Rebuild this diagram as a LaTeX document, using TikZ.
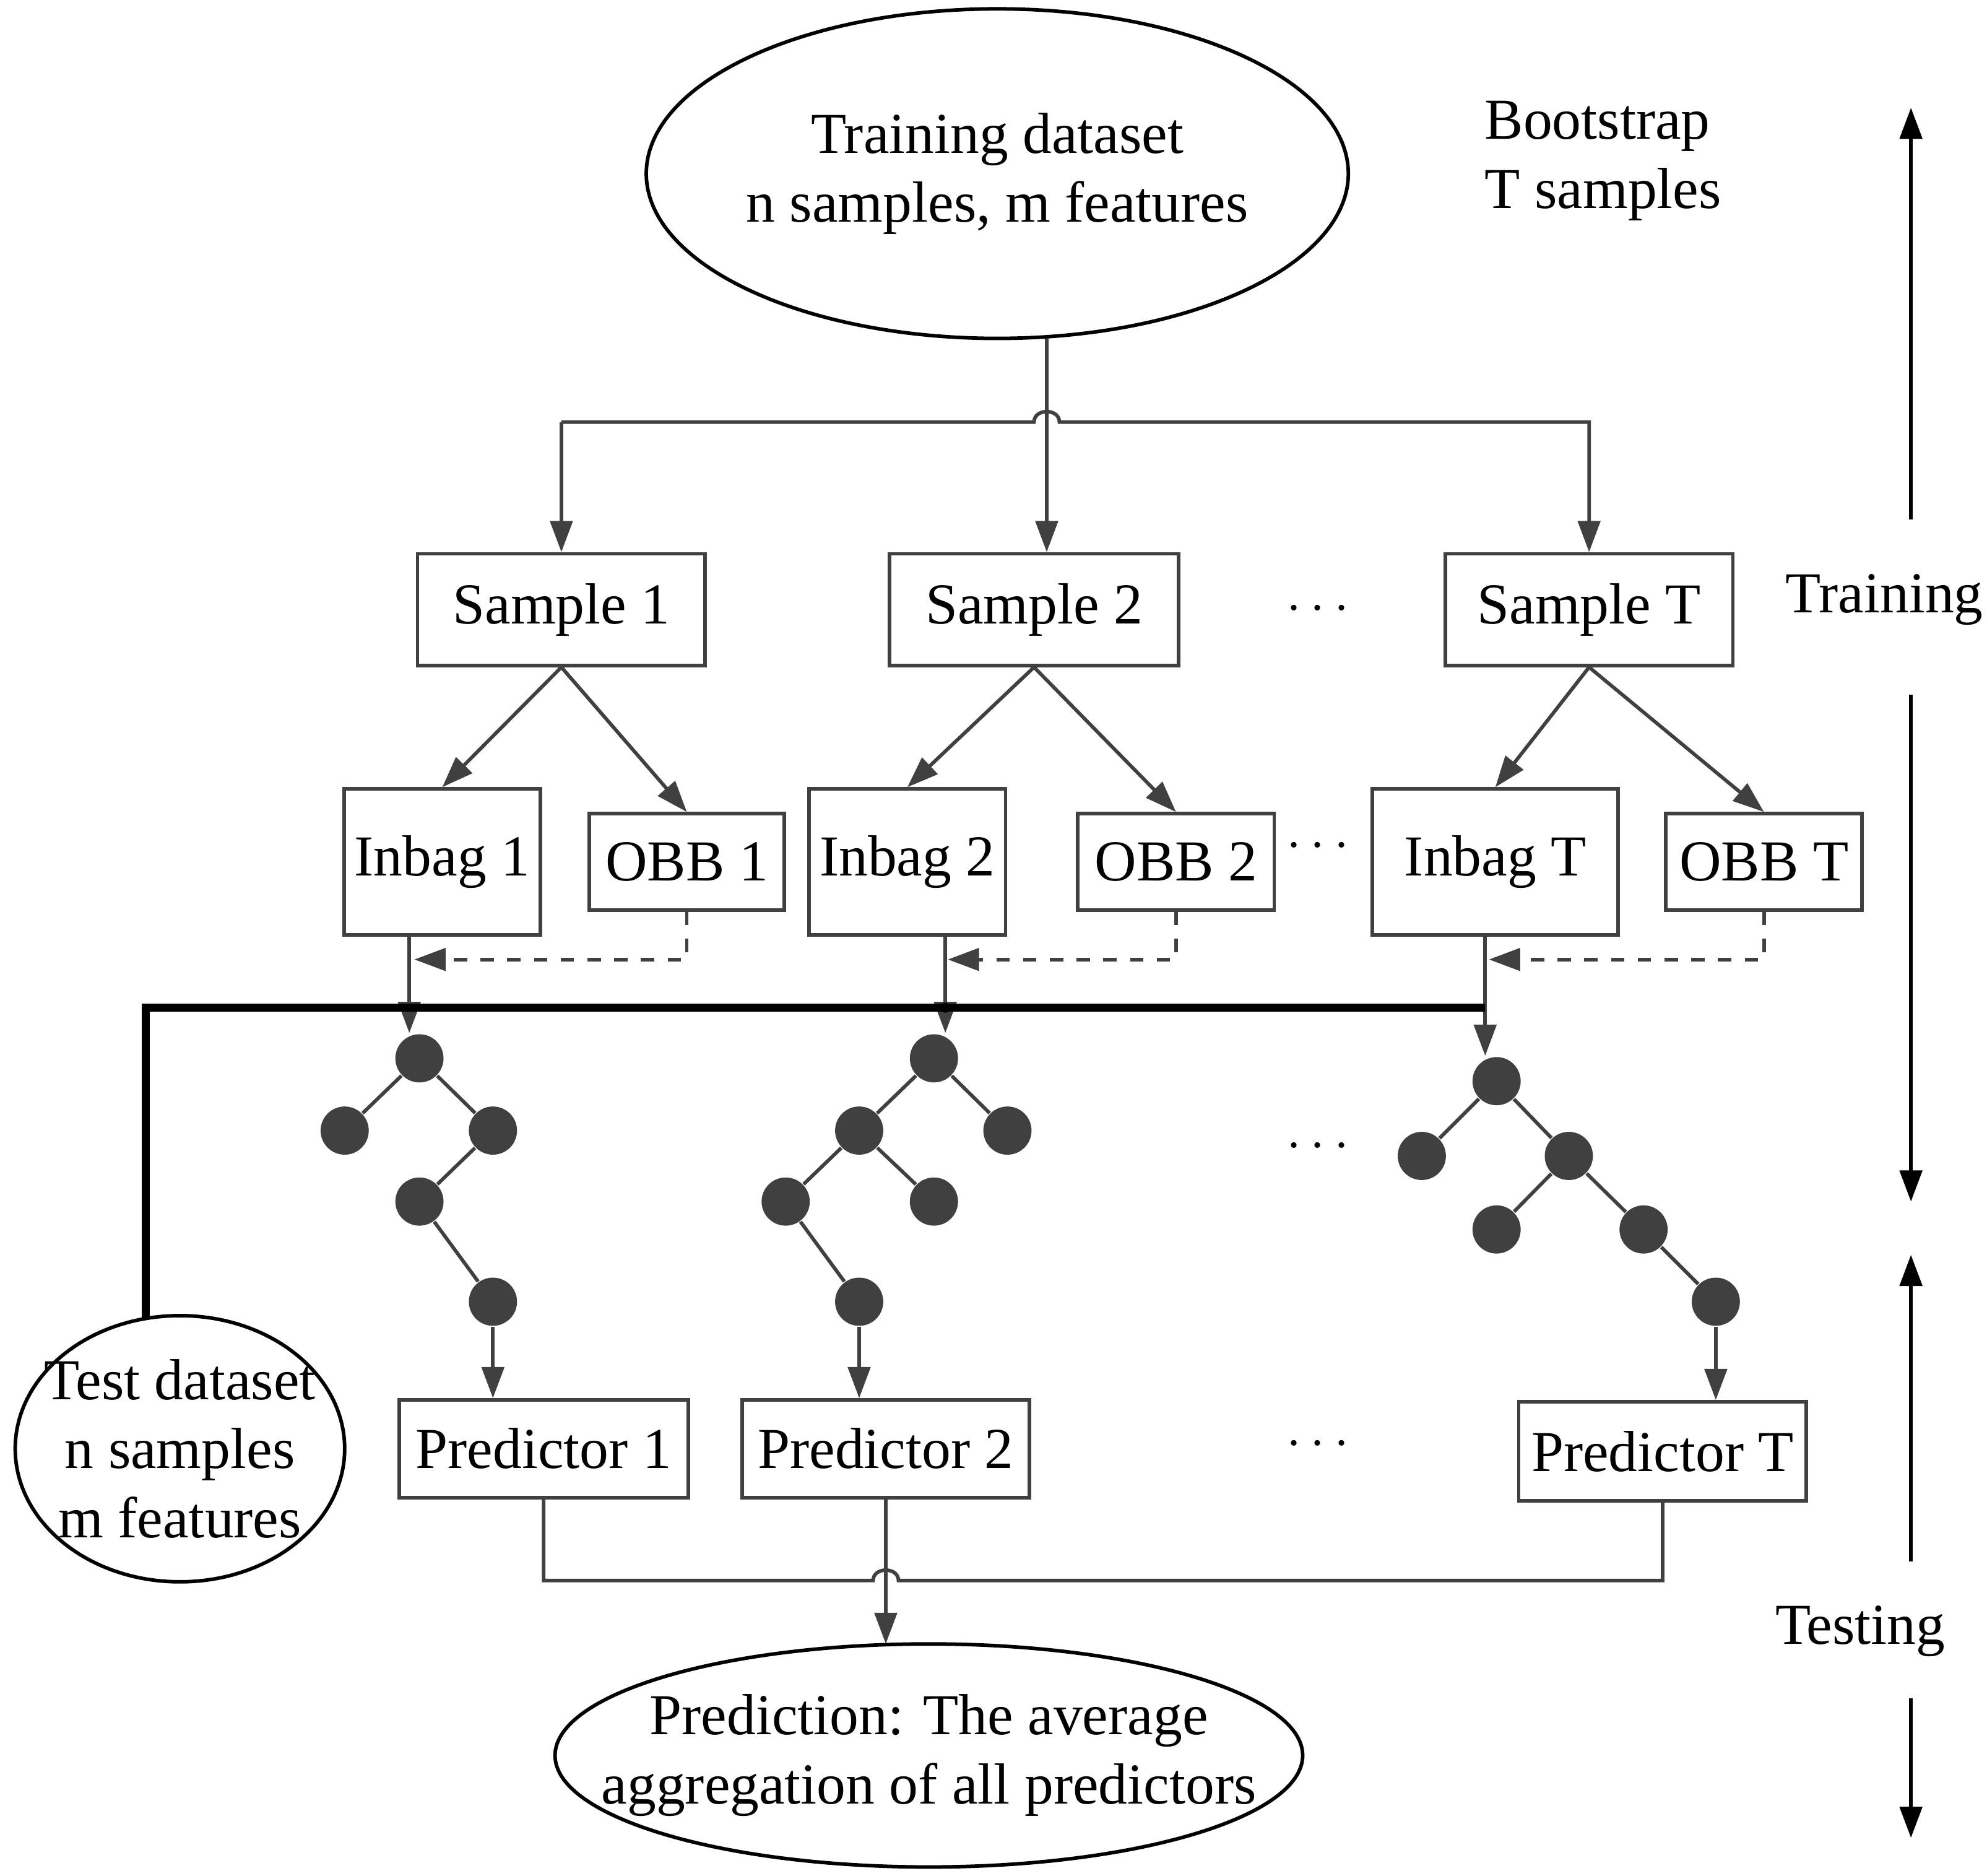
\documentclass[tikz,border=0pt]{standalone}
\usepackage{fontspec}
\setmainfont{Liberation Serif}
\usetikzlibrary{arrows.meta}
\begin{document}
\begin{tikzpicture}[x=0.01cm,y=-0.01cm,>={Triangle[length=7pt,width=5pt]},
  every node/.style={font=\fontsize{13}{15.5}\selectfont},
  box/.style={draw,thick,draw=black!75,minimum height=#1*0.01cm,inner sep=0pt},
  leaf/.style={circle,fill=black!75,minimum size=0.38cm,inner sep=0pt},
  edge/.style={draw=black!75,thick}]
\useasboundingbox (0,0) rectangle (1568,1480);
% ellipses
\node (train) [align=center] at (787,137) {Training dataset\\n samples, m features};
\draw [thick] (train.center) ellipse (277 and 130);
\node (test) [align=center,inner sep=0pt] at (142,1143) {Test dataset\\n samples\\m features};
\draw [thick] (test.center) ellipse (130 and 105);
\node (pred) [align=center] at (733,1385) {Prediction: The average\\aggregation of all predictors};
\draw [thick] (pred.center) ellipse (295 and 88);
\node (boot) [align=left] at (1265,127) {Bootstrap\\T samples};
% samples
\node (s1) [box=88,minimum width=227*0.01cm] at (443,481) {Sample 1};
\node (s2) [box=88,minimum width=228*0.01cm] at (816,481) {Sample 2};
\node (sT) [box=88,minimum width=227*0.01cm] at (1254,481) {Sample T};
\node (sdots) at (1040,481) {$\cdots$};
% inbag / obb
\node (i1) [box=115,minimum width=155*0.01cm] at (349,680) {Inbag 1};
\node (o1) [box=76,minimum width=154*0.01cm] at (542,680) {OBB 1};
\node (i2) [box=115,minimum width=155*0.01cm] at (716,680) {Inbag 2};
\node (o2) [box=76,minimum width=155*0.01cm] at (928,680) {OBB 2};
\node (iT) [box=115,minimum width=194*0.01cm] at (1180,680) {Inbag T};
\node (oT) [box=76,minimum width=155*0.01cm] at (1392,680) {OBB T};
\node (idots) at (1040,668) {$\cdots$};
% predictors
\node (p1) [box=77,minimum width=228*0.01cm] at (429,1143) {Predictor 1};
\node (p2) [box=77,minimum width=227*0.01cm] at (699,1143) {Predictor 2};
\node (pT) [box=78,minimum width=227*0.01cm] at (1312,1145) {Predictor T};
\node (pdots) at (1040,1140) {$\cdots$};
\node (tdots) at (1040,905) {$\cdots$};
% trees
\node (a1) [leaf] at (331,835) {};
\node (a2) [leaf] at (272,892) {};
\node (a3) [leaf] at (389,892) {};
\node (a4) [leaf] at (331,948) {};
\node (a5) [leaf] at (389,1027) {};
\node (b1) [leaf] at (737,835) {};
\node (b2) [leaf] at (678,892) {};
\node (b3) [leaf] at (795,892) {};
\node (b4) [leaf] at (620,948) {};
\node (b5) [leaf] at (737,948) {};
\node (b6) [leaf] at (678,1027) {};
\node (c1) [leaf] at (1181,853) {};
\node (c2) [leaf] at (1122,912) {};
\node (c3) [leaf] at (1238,912) {};
\node (c4) [leaf] at (1181,970) {};
\node (c5) [leaf] at (1297,970) {};
\node (c6) [leaf] at (1354,1027) {};
\draw [edge] (a1) -- (a2) (a1) -- (a3) (a3) -- (a4) (a4) -- (a5);
\draw [edge] (b1) -- (b2) (b1) -- (b3) (b2) -- (b4) (b2) -- (b5) (b4) -- (b6);
\draw [edge] (c1) -- (c2) (c1) -- (c3) (c3) -- (c4) (c3) -- (c5) (c5) -- (c6);
% bootstrap split
\coordinate (hop) at (826,333);
\draw [edge] (826,267) -- (hop);
\draw [edge,->] (hop) -- (s2.north -| hop);
\draw [edge,->] (s1.north |- hop) -- (816,333) .. controls (816,322) and (836,322) .. (836,333) -- (sT.north |- hop) -- (sT.north);
\draw [edge,->] (s1.north |- hop) -- (s1.north);
% sample to inbag / obb
\foreach \s/\i/\o in {s1/i1/o1,s2/i2/o2,sT/iT/oT}{
  \draw [edge,->] (\s.south) -- (\i.north);
  \draw [edge,->] (\s.south) -- (\o.north);
}
% oob dashed
\draw [edge,dashed,->] (o1.south) -- (542,757) -- (327,757);
\draw [edge,dashed,->] (o2.south) -- (928,757) -- (748,757);
\draw [edge,dashed,->] (oT.south) -- (1392,757) -- (1175,757);
% inbag to tree
\draw [edge,->] (323,737) -- (323,815);
\draw [edge,->] (746,737) -- (746,815);
\draw [edge,->] (1172,737) -- (1172,833);
% test line
\draw [line width=1.8pt] (115,1040) -- (115,795) -- (1172,795);
\fill (746,795) circle (4);
% tree to predictor
\draw [edge,->] (a5) -- (p1.north -| a5);
\draw [edge,->] (b6) -- (p2.north -| b6);
\draw [edge,->] (c6) -- (pT.north -| c6);
% aggregation
\draw [edge] (p1.south) -- (429,1247) -- (689,1247) .. controls (689,1236) and (709,1236) .. (709,1247) -- (1312,1247) -- (pT.south);
\draw [edge,->] (p2.south) -- (699,1297);
% phases
\node (trn) at (1487,473) {Training};
\node (tst) at (1468,1287) {Testing};
\draw [thick,->] (1508,410) -- (1508,85);
\draw [thick,->] (1508,548) -- (1508,948);
\draw [thick,->] (1508,1232) -- (1508,990);
\draw [thick,->] (1508,1340) -- (1508,1450);
\end{tikzpicture}
\end{document}
